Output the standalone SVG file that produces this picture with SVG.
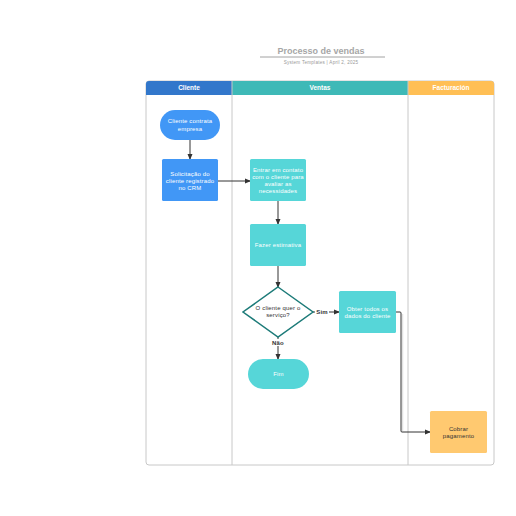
<svg xmlns="http://www.w3.org/2000/svg" width="516" height="516" viewBox="0 0 516 516">
<defs>
<marker id="ah" markerWidth="6" markerHeight="6" refX="5" refY="3" orient="auto" markerUnits="userSpaceOnUse"><path d="M0,0.5 L6,3 L0,5.5 Z" fill="#333"/></marker>
<style>
.t{font-family:"Liberation Sans",Arial,sans-serif;font-size:6px;text-anchor:middle;letter-spacing:0.15px;}
.w{fill:#fff;}
.d{fill:#333;}
.h{font-family:"Liberation Sans",Arial,sans-serif;font-size:6.5px;font-weight:bold;fill:#fff;text-anchor:middle;}
.c{stroke:#333;stroke-width:1;fill:none;}
.lane{stroke:#c8c8c8;stroke-width:1;fill:none;}
</style>
</defs>
<rect width="516" height="516" fill="#fff"/>
<g id="title">
<text x="321" y="54" font-family="Liberation Sans,Arial,sans-serif" font-size="9" font-weight="bold" fill="#a6a6a6" text-anchor="middle">Processo de vendas</text>
<line x1="260" y1="57" x2="385" y2="57" stroke="#8a8a8a" stroke-width="0.8"/>
<text x="321" y="64" font-family="Liberation Sans,Arial,sans-serif" font-size="4.6" fill="#999" text-anchor="middle" letter-spacing="0.25">System Templates  |  April 2, 2025</text>
</g>
<g id="pool">
<rect x="146" y="81" width="348" height="384" rx="3" fill="#fff" stroke="#c8c8c8"/>
<path d="M149,81 H232 V95 H146 V84 A3,3 0 0 1 149,81 Z" fill="#3277CB"/>
<rect x="232" y="81" width="176" height="14" fill="#3EB9B7"/>
<path d="M408,81 H491 A3,3 0 0 1 494,84 V95 H408 Z" fill="#FFBF55"/>
<line x1="232" y1="81" x2="232" y2="465" class="lane"/>
<line x1="408" y1="81" x2="408" y2="465" class="lane"/>
<text x="189" y="90" class="h">Cliente</text>
<text x="320" y="90" class="h">Ventas</text>
<text x="451" y="90" class="h">Facturación</text>
</g>
<g id="connectors">
<line x1="190" y1="140" x2="190" y2="159" class="c" marker-end="url(#ah)"/>
<line x1="218" y1="181" x2="250" y2="181" class="c" marker-end="url(#ah)"/>
<line x1="278" y1="201" x2="278" y2="224" class="c" marker-end="url(#ah)"/>
<line x1="278" y1="266" x2="278" y2="287" class="c" marker-end="url(#ah)"/>
<line x1="313" y1="312" x2="339" y2="312" class="c" marker-end="url(#ah)"/>
<line x1="278" y1="337" x2="278" y2="359" class="c" marker-end="url(#ah)"/>
<path d="M402.5,314 V431" stroke="#e2e2e2" stroke-width="1.5" fill="none"/>
<path d="M396,312 H400 Q401,312 401,313 V431 Q401,432 402,432 H430" class="c" stroke-width="0.7" marker-end="url(#ah)"/>
<rect x="315" y="308" width="14" height="8" fill="#fff"/>
<text x="322" y="314" class="t d" font-weight="bold">Sim</text>
<rect x="271" y="339" width="14" height="7" fill="#fff"/>
<text x="278" y="345" class="t d" font-weight="bold">Não</text>
</g>
<g id="n1">
<rect x="160" y="110" width="60" height="30" rx="15" fill="#4197F6"/>
<text x="190" y="123" class="t w">Cliente contrata</text>
<text x="190" y="131" class="t w">empresa</text>
</g>
<g id="n2">
<rect x="162" y="159" width="56" height="42" rx="1.5" fill="#4197F6"/>
<text x="190" y="176" class="t w">Solicitação do</text>
<text x="190" y="183" class="t w">cliente registrado</text>
<text x="190" y="190" class="t w">no CRM</text>
</g>
<g id="n3">
<rect x="250" y="159" width="56" height="42" rx="1.5" fill="#56D6D8"/>
<text x="278" y="172" class="t w">Entrar em contato</text>
<text x="278" y="179" class="t w">com o cliente para</text>
<text x="278" y="186" class="t w">avaliar as</text>
<text x="278" y="193" class="t w">necessidades</text>
</g>
<g id="n4">
<rect x="250" y="224" width="56" height="42" rx="1.5" fill="#56D6D8"/>
<text x="278" y="247" class="t w">Fazer estimativa</text>
</g>
<g id="n5">
<path d="M278,287 L313,312 L278,337 L243,312 Z" fill="#fff" stroke="#1D7B79" stroke-width="1.5"/>
<text x="278" y="310" class="t d">O cliente quer o</text>
<text x="278" y="317" class="t d">serviço?</text>
</g>
<g id="n6">
<rect x="339" y="291" width="57" height="42" rx="1.5" fill="#56D6D8"/>
<text x="367.5" y="311" class="t w">Obter todos os</text>
<text x="367.5" y="318" class="t w">dados do cliente</text>
</g>
<g id="n7">
<rect x="248" y="359" width="61" height="30" rx="15" fill="#56D6D8"/>
<text x="278.5" y="376" class="t w">Fim</text>
</g>
<g id="n8">
<rect x="430" y="411" width="57" height="42" rx="1.5" fill="#FFC970"/>
<text x="458.5" y="431" class="t d">Cobrar</text>
<text x="458.5" y="438" class="t d">pagamento</text>
</g>
</svg>
